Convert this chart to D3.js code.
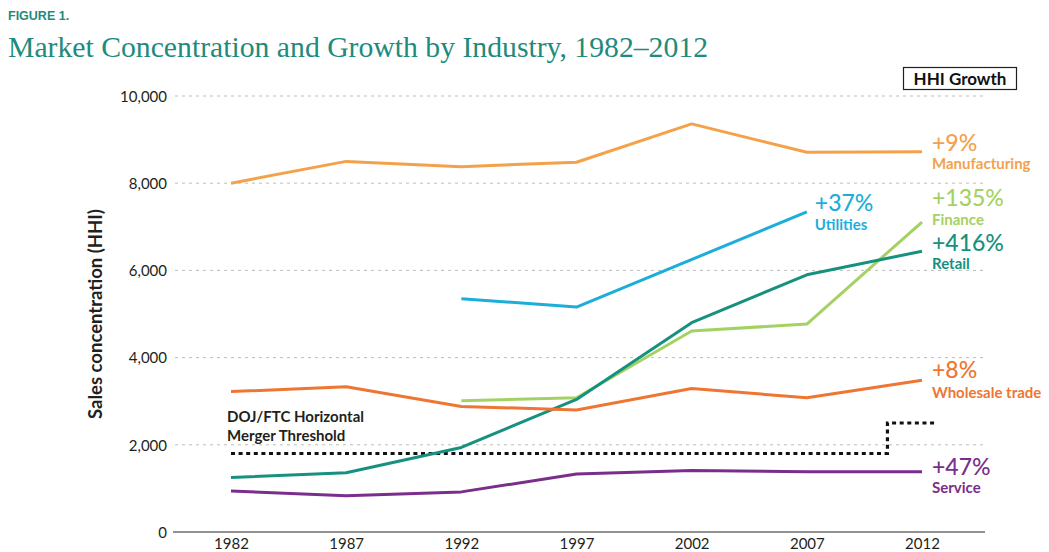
<!DOCTYPE html>
<html>
<head>
<meta charset="utf-8">
<script src="https://cdn.jsdelivr.net/npm/d3@7"></script>
<style>
  html, body { margin: 0; padding: 0; background: #fff; }
  svg { display: block; }
</style>
</head>
<body>
<script>
// ---------- DATA ----------
const years = [1982, 1987, 1992, 1997, 2002, 2007, 2012];
const yTicks = [0, 2000, 4000, 6000, 8000, 10000];

const manufacturingYears = [1982, 1987, 1992, 1997, 2002, 2007, 2012];
const manufacturingValues = [8000, 8500, 8380, 8480, 9360, 8710, 8720];

const utilitiesYears = [1992, 1997, 2007];
const utilitiesValues = [5350, 5160, 7340];

const financeYears = [1992, 1997, 2002, 2007, 2012];
const financeValues = [3010, 3080, 4610, 4770, 7110];

const retailYears = [1982, 1987, 1992, 1997, 2002, 2007, 2012];
const retailValues = [1250, 1360, 1940, 3040, 4800, 5900, 6440];

const wholesaleYears = [1982, 1987, 1992, 1997, 2002, 2007, 2012];
const wholesaleValues = [3220, 3330, 2880, 2800, 3290, 3080, 3480];

const serviceYears = [1982, 1987, 1992, 1997, 2002, 2007, 2012];
const serviceValues = [940, 830, 920, 1330, 1410, 1380, 1380];

const thresholdYears = [1982, 2010.5, 2010.5, 2012.6];
const thresholdValues = [1800, 1800, 2500, 2500];

const seriesNames = ["Manufacturing", "Utilities", "Finance", "Retail", "Wholesale trade", "Service"];
const growthLabels = ["+9%", "+37%", "+135%", "+416%", "+8%", "+47%"];

// ---------- STYLE ----------
const colors = ["#F3A24B", "#1BAEDB", "#A4D262", "#16917F", "#EE7632", "#7A2E8C"];
const labelDy = [[-1, 17], [-1, 18], [-16, 3], [0, 18], [-2, 18], [3, 21]];
const labelDx = [10, 8, 10, 10, 10, 10];

const W = 1049, H = 552;
const svg = d3.select("body").append("svg").attr("width", W).attr("height", H);

const x = d3.scaleLinear().domain([1982, 2012]).range([231, 922]);
const y = d3.scaleLinear().domain([0, 10000]).range([532, 96]);
const gridX0 = 175, gridX1 = 985;

const sans = "Lato, 'Open Sans', sans-serif";
const teal = "#1E8B7C";

// Titles
svg.append("text").attr("x", 8).attr("y", 20)
  .attr("font-family", "'Liberation Sans', Arial, sans-serif").attr("font-weight", "bold")
  .attr("font-size", 12.5).attr("fill", teal).text("FIGURE 1.");
const title = svg.append("text").attr("x", 8).attr("y", 57)
  .attr("font-family", "'Liberation Serif', 'DejaVu Serif', serif")
  .attr("font-size", 29).attr("fill", teal)
  .text("Market Concentration and Growth by Industry, 1982\u20132012");
title.attr("textLength", 700).attr("lengthAdjust", "spacingAndGlyphs");

// Gridlines
svg.append("g").selectAll("line").data(yTicks.filter(d => d > 0)).join("line")
  .attr("x1", gridX0).attr("x2", gridX1)
  .attr("y1", d => y(d)).attr("y2", d => y(d))
  .attr("stroke", "#bdbdbd").attr("stroke-width", 1).attr("stroke-dasharray", "3,4");

// Y axis via d3.axisLeft (labels only)
const yAxis = svg.append("g").attr("transform", `translate(${gridX0 - 8},0)`)
  .call(d3.axisLeft(y).tickValues(yTicks).tickFormat(d3.format(",")).tickSize(0).tickPadding(0));
yAxis.select(".domain").remove();
yAxis.selectAll("text").attr("font-family", sans).attr("font-size", 15).attr("fill", "#231f20")
  .attr("dy", "0.35em");

// Zero baseline
svg.append("line").attr("x1", 173).attr("x2", gridX1).attr("y1", y(0)).attr("y2", y(0))
  .attr("stroke", "#6d6d6d").attr("stroke-width", 1.5);

// X axis
const xAxis = svg.append("g").attr("transform", `translate(0,${y(0)})`)
  .call(d3.axisBottom(x).tickValues(years).tickFormat(d3.format("d")).tickSize(0).tickPadding(6));
xAxis.select(".domain").remove();
xAxis.selectAll("text").attr("font-family", sans).attr("font-size", 15).attr("fill", "#231f20");

// Y title
svg.append("text").attr("transform", `translate(102,${(y(0)+y(10000))/2}) rotate(-90)`)
  .attr("text-anchor", "middle").attr("font-family", sans).attr("font-weight", 700)
  .attr("font-size", 18.5).attr("fill", "#231f20").text("Sales concentration (HHI)");

// Threshold
const line = d3.line().x(d => x(d[0])).y(d => y(d[1]));
svg.append("path").datum(d3.zip(thresholdYears, thresholdValues))
  .attr("d", line).attr("fill", "none").attr("stroke", "#111")
  .attr("stroke-width", 3.2).attr("stroke-dasharray", "4,3.6");
const thrText = svg.append("text").attr("x", 227).attr("y", 422)
  .attr("font-family", sans).attr("font-weight", 700).attr("font-size", 15).attr("fill", "#231f20");
thrText.append("tspan").attr("x", 227).attr("y", 422).text("DOJ/FTC Horizontal");
thrText.append("tspan").attr("x", 227).attr("y", 441).text("Merger Threshold");

// Series
const allYears = [manufacturingYears, utilitiesYears, financeYears, retailYears, wholesaleYears, serviceYears];
const allValues = [manufacturingValues, utilitiesValues, financeValues, retailValues, wholesaleValues, serviceValues];
const series = seriesNames.map((name, i) => ({
  name, color: colors[i], growth: growthLabels[i],
  pts: d3.zip(allYears[i], allValues[i]), dy: labelDy[i], dx: labelDx[i]
}));

svg.append("g").selectAll("path").data(series).join("path")
  .attr("d", d => line(d.pts)).attr("fill", "none")
  .attr("stroke", d => d.color).attr("stroke-width", 3)
  .attr("stroke-linejoin", "round").attr("stroke-linecap", "butt");

const lg = svg.append("g").selectAll("g").data(series).join("g")
  .attr("transform", d => { const p = d.pts[d.pts.length - 1]; return `translate(${x(p[0]) + d.dx},${y(p[1])})`; });
const lt = lg.append("text").attr("font-family", sans).attr("fill", d => d.color);
lt.append("tspan").attr("x", 0).attr("y", d => d.dy[0])
  .attr("font-size", 23).attr("font-weight", 500).text(d => d.growth);
lt.append("tspan").attr("x", 0).attr("y", d => d.dy[1])
  .attr("font-size", 15).attr("font-weight", 700).text(d => d.name);

// HHI Growth box
svg.append("rect").attr("x", 903.5).attr("y", 67.5).attr("width", 113).attr("height", 22)
  .attr("fill", "#fff").attr("stroke", "#231f20").attr("stroke-width", 1.2);
svg.append("text").attr("x", 960).attr("y", 85).attr("text-anchor", "middle")
  .attr("font-family", sans).attr("font-weight", 700).attr("font-size", 17).attr("fill", "#111")
  .text("HHI Growth");
</script>
</body>
</html>
